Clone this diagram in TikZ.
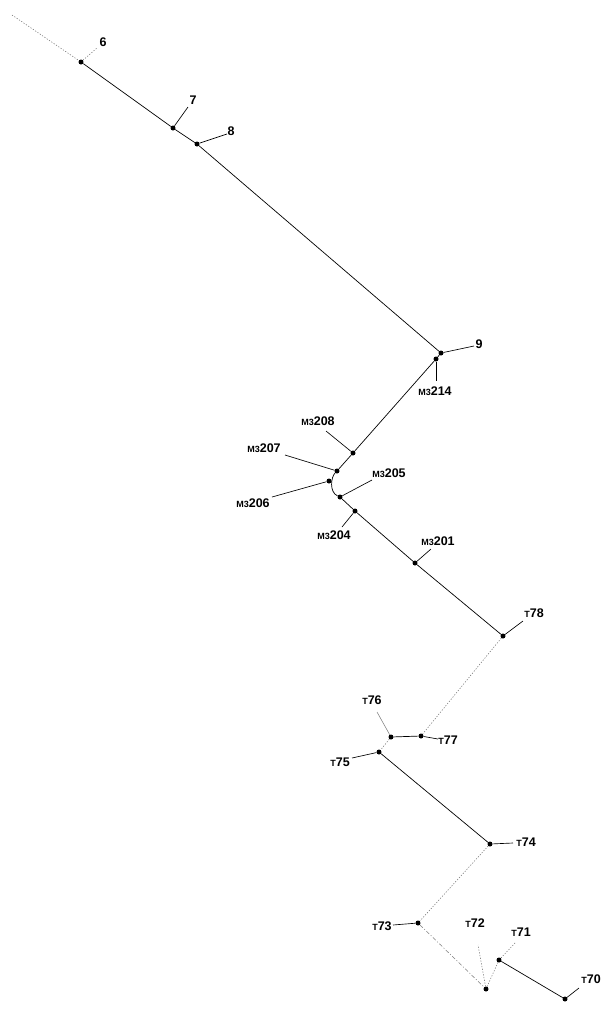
\documentclass[tikz,border=0pt]{standalone}
\usepackage{fontspec}
\setmainfont{Liberation Sans}
\begin{document}
\begin{tikzpicture}[x=1pt,y=-1pt,
  pt/.style={circle,fill=black,inner sep=0pt,minimum size=5pt},
  lbl/.style={inner sep=0pt,font=\fontsize{12.5}{12.5}\selectfont\bfseries},
  solidln/.style={draw=black,line width=0.7pt},
  leader/.style={draw=black,line width=0.65pt},
  faint/.style={draw=black!55,line width=0.55pt,dash pattern=on 1.2pt off 1.6pt},
  faintdd/.style={draw=black!50,line width=0.55pt,dash pattern=on 4pt off 2pt on 1pt off 2pt},
  faintsolid/.style={draw=black!50,line width=0.55pt}]
\newcommand{\pre}[1]{{\fontsize{9}{9}\selectfont #1}}
\useasboundingbox (0,0) rectangle (607,1013);
% points
\coordinate (start) at (12,15);
\node[pt] (n6) at (81,62) {};
\node[pt] (n7) at (173,128) {};
\node[pt] (n8) at (197,144) {};
\node[pt] (n9) at (441,353) {};
\node[pt] (m214) at (436,359) {};
\node[pt] (m208) at (353,453) {};
\node[pt] (m207) at (337,471) {};
\node[pt] (m206) at (329,481) {};
\node[pt] (m205) at (340,497) {};
\node[pt] (m204) at (355,511) {};
\node[pt] (m201) at (415,563) {};
\node[pt] (t78) at (503,636) {};
\node[pt] (t77) at (421,736) {};
\node[pt] (t76) at (391,737) {};
\node[pt] (t75) at (379,752) {};
\node[pt] (t74) at (490,844) {};
\node[pt] (t73) at (418,923) {};
\node[pt] (t72) at (486,989) {};
\node[pt] (t71) at (499,960) {};
\node[pt] (t70) at (565,999) {};
% labels
\node[lbl] (l6) at (103,42) {6};
\node[lbl] (l7) at (193,100) {7};
\node[lbl] (l8) at (231,131) {8};
\node[lbl] (l9) at (479,344) {9};
\node[lbl] (lm214) at (435,391) {\pre{M3}214};
\node[lbl] (lm208) at (318,421) {\pre{M3}208};
\node[lbl] (lm207) at (264,448) {\pre{M3}207};
\node[lbl] (lm206) at (253,503) {\pre{M3}206};
\node[lbl] (lm205) at (389,473) {\pre{M3}205};
\node[lbl] (lm204) at (334,535) {\pre{M3}204};
\node[lbl] (lm201) at (438,541) {\pre{M3}201};
\node[lbl] (lt78) at (534,613) {\pre{T}78};
\node[lbl] (lt76) at (372,700) {\pre{T}76};
\node[lbl] (lt77) at (448,740) {\pre{T}77};
\node[lbl] (lt75) at (340,762) {\pre{T}75};
\node[lbl] (lt74) at (526,842) {\pre{T}74};
\node[lbl] (lt73) at (382,926) {\pre{T}73};
\node[lbl] (lt72) at (475,923) {\pre{T}72};
\node[lbl] (lt71) at (521,932) {\pre{T}71};
\node[lbl] (lt70) at (591,979) {\pre{T}70};
% leader ends
\coordinate (e6) at (97,48);
\coordinate (e7) at (188,107);
\coordinate (e8) at (227,134);
\coordinate (e9) at (474,346);
\coordinate (em214) at (436,381);
\coordinate (em208) at (326,431);
\coordinate (em207) at (285,455);
\coordinate (em206) at (272,497);
\coordinate (em205) at (372,480);
\coordinate (em204) at (342,527);
\coordinate (em201) at (431,549);
\coordinate (et78) at (523,621);
\coordinate (et76) at (377,712);
\coordinate (et77) at (438,739);
\coordinate (et75) at (352,758);
\coordinate (et74) at (513,843);
\coordinate (et73) at (393,925);
\coordinate (et72) at (478,945);
\coordinate (et71) at (516,942);
\coordinate (et70) at (579,988);
% main line
\draw[faint] (start) -- (n6);
\draw[solidln] (n6) -- (n7) -- (n8) -- (n9);
\draw[solidln] (n9) -- (m214);
\draw[solidln] (m214) -- (m208) -- (m207);
\draw[solidln] (m207) .. controls (331,477) and (329,492) .. (m205);
\draw[solidln] (m205) -- (m204) -- (m201) -- (t78);
\draw[faint] (t78) -- (t77);
\draw[solidln] (t77) -- (t76);
\draw[faint] (t76) -- (t75);
\draw[solidln] (t75) -- (t74);
\draw[faint] (t74) -- (t73);
\draw[faintdd] (t73) -- (t72);
\draw[faint] (t72) -- (t71);
\draw[solidln] (t71) -- (t70);
% leaders
\draw[faint] (n6) -- (e6);
\draw[leader] (n7) -- (e7);
\draw[leader] (n8) -- (e8);
\draw[leader] (n9) -- (e9);
\draw[leader] (m214) -- (em214);
\draw[leader] (m208) -- (em208);
\draw[leader] (m207) -- (em207);
\draw[leader] (m206) -- (em206);
\draw[leader] (m205) -- (em205);
\draw[leader] (m204) -- (em204);
\draw[leader] (m201) -- (em201);
\draw[leader] (t78) -- (et78);
\draw[faintsolid] (t76) -- (et76);
\draw[leader] (t77) -- (et77);
\draw[leader] (t75) -- (et75);
\draw[leader] (t74) -- (et74);
\draw[leader] (t73) -- (et73);
\draw[faint] (t72) -- (et72);
\draw[faint] (t71) -- (et71);
\draw[leader] (t70) -- (et70);
\end{tikzpicture}
\end{document}
